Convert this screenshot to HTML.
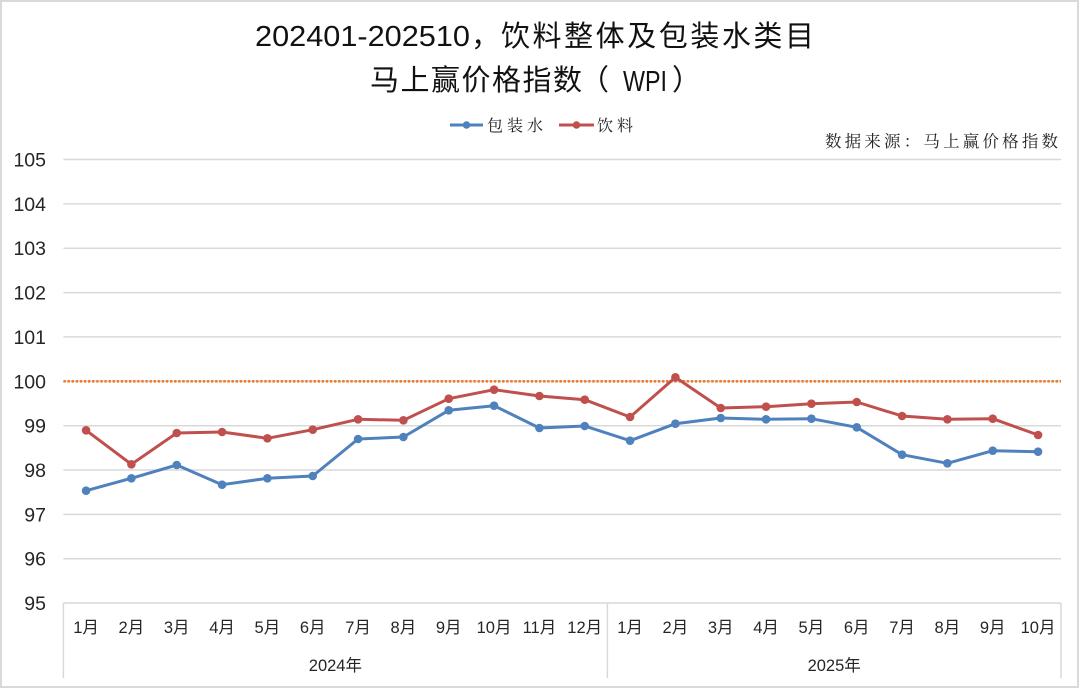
<!DOCTYPE html>
<html><head><meta charset="utf-8"><style>
html,body{margin:0;padding:0;background:#fff;}
svg{display:block;}
</style></head><body>
<svg width="1080" height="688" viewBox="0 0 1080 688" xmlns="http://www.w3.org/2000/svg">
<rect x="0" y="0" width="1080" height="688" fill="#fff"/>
<rect x="1" y="1" width="1077" height="686" fill="none" stroke="#d9d9d9" stroke-width="2"/>

<!-- Title -->
<g fill="#111" font-family="'Liberation Sans','Noto Sans CJK SC',sans-serif" font-size="29">
<text x="255" y="46" textLength="215" lengthAdjust="spacingAndGlyphs">202401-202510</text>
<text x="471" y="46" font-family="'Noto Sans CJK SC',sans-serif">，</text>
<text x="501" y="46" textLength="313" lengthAdjust="spacing" font-family="'Noto Sans CJK SC',sans-serif">饮料整体及包装水类目</text>
<text x="370" y="90" textLength="212" lengthAdjust="spacing" font-family="'Noto Sans CJK SC',sans-serif">马上赢价格指数</text>
<text x="580" y="90" font-family="'Noto Sans CJK SC',sans-serif">（</text>
<text x="623" y="91" textLength="44" lengthAdjust="spacingAndGlyphs">WPI</text>
<text x="672" y="90" font-family="'Noto Sans CJK SC',sans-serif">）</text>
</g>

<!-- Legend -->
<line x1="450" y1="125" x2="483" y2="125" stroke="#4F81BD" stroke-width="3"/>
<circle cx="466.5" cy="125" r="3.8" fill="#4F81BD"/>
<text x="487" y="131" font-family="'Noto Serif CJK SC',serif" font-size="16" fill="#222" textLength="56" lengthAdjust="spacing">包装水</text>
<line x1="559" y1="125" x2="594" y2="125" stroke="#C0504D" stroke-width="3"/>
<circle cx="576.5" cy="125" r="3.8" fill="#C0504D"/>
<text x="597" y="131" font-family="'Noto Serif CJK SC',serif" font-size="16" fill="#222" textLength="36" lengthAdjust="spacing">饮料</text>

<!-- Source -->
<text x="825" y="147" font-family="'Noto Serif CJK SC',serif" font-size="16.5" fill="#222" textLength="233" lengthAdjust="spacing">数据来源：马上赢价格指数</text>

<!-- Gridlines -->
<g stroke="#d9d9d9" stroke-width="1.5">
<line x1="63.4" y1="159.5" x2="1061" y2="159.5"/>
<line x1="63.4" y1="203.9" x2="1061" y2="203.9"/>
<line x1="63.4" y1="248.2" x2="1061" y2="248.2"/>
<line x1="63.4" y1="292.6" x2="1061" y2="292.6"/>
<line x1="63.4" y1="336.9" x2="1061" y2="336.9"/>
<line x1="63.4" y1="381.3" x2="1061" y2="381.3"/>
<line x1="63.4" y1="425.7" x2="1061" y2="425.7"/>
<line x1="63.4" y1="470" x2="1061" y2="470"/>
<line x1="63.4" y1="514.4" x2="1061" y2="514.4"/>
<line x1="63.4" y1="558.7" x2="1061" y2="558.7"/>
</g>
<!-- Category axis box -->
<g stroke="#d9d9d9" stroke-width="1.5" fill="none">
<line x1="63.4" y1="603" x2="1061" y2="603"/>
<line x1="63.4" y1="603" x2="63.4" y2="678"/>
<line x1="607.4" y1="603" x2="607.4" y2="678"/>
<line x1="1061" y1="603" x2="1061" y2="678"/>
</g>

<!-- Y labels -->
<g font-family="'Liberation Sans',sans-serif" font-size="19.5" fill="#262626" text-anchor="end">
<text x="46" y="166.5">105</text>
<text x="46" y="210.9">104</text>
<text x="46" y="255.2">103</text>
<text x="46" y="299.6">102</text>
<text x="46" y="343.9">101</text>
<text x="46" y="388.3">100</text>
<text x="46" y="432.7">99</text>
<text x="46" y="477">98</text>
<text x="46" y="521.4">97</text>
<text x="46" y="565.7">96</text>
<text x="46" y="610">95</text>
</g>

<!-- X labels -->
<g font-family="'Liberation Sans','Noto Sans CJK SC',sans-serif" font-size="16.5" fill="#262626" text-anchor="middle">
<text x="86.07" y="633">1月</text>
<text x="131.4" y="633">2月</text>
<text x="176.73" y="633">3月</text>
<text x="222.07" y="633">4月</text>
<text x="267.4" y="633">5月</text>
<text x="312.73" y="633">6月</text>
<text x="358.07" y="633">7月</text>
<text x="403.4" y="633">8月</text>
<text x="448.73" y="633">9月</text>
<text x="494.07" y="633">10月</text>
<text x="539.4" y="633">11月</text>
<text x="584.73" y="633">12月</text>
<text x="630.07" y="633">1月</text>
<text x="675.4" y="633">2月</text>
<text x="720.73" y="633">3月</text>
<text x="766.07" y="633">4月</text>
<text x="811.4" y="633">5月</text>
<text x="856.73" y="633">6月</text>
<text x="902.07" y="633">7月</text>
<text x="947.4" y="633">8月</text>
<text x="992.73" y="633">9月</text>
<text x="1038.07" y="633">10月</text>
<text x="335.4" y="671">2024年</text>
<text x="834.2" y="671">2025年</text>
</g>

<!-- Reference line 100 -->
<line x1="63.4" y1="381.3" x2="1061" y2="381.3" stroke="#ED7D31" stroke-width="2.6" stroke-dasharray="2.4 1.7"/>

<!-- Blue series -->
<polyline fill="none" stroke="#4F81BD" stroke-width="3" stroke-linejoin="round"
points="86.07,490.7 131.4,478.3 176.73,465 222.07,484.7 267.4,478.3 312.73,476 358.07,439 403.4,437 448.73,410.3 494.07,405.7 539.4,428 584.73,426 630.07,440.7 675.4,423.7 720.73,418 766.07,419.3 811.4,418.7 856.73,427.3 902.07,454.7 947.4,463.3 992.73,450.7 1038.07,451.7"/>
<g fill="#4F81BD">
<circle cx="86.07" cy="490.7" r="4.3"/><circle cx="131.4" cy="478.3" r="4.3"/><circle cx="176.73" cy="465" r="4.3"/><circle cx="222.07" cy="484.7" r="4.3"/><circle cx="267.4" cy="478.3" r="4.3"/><circle cx="312.73" cy="476" r="4.3"/><circle cx="358.07" cy="439" r="4.3"/><circle cx="403.4" cy="437" r="4.3"/><circle cx="448.73" cy="410.3" r="4.3"/><circle cx="494.07" cy="405.7" r="4.3"/><circle cx="539.4" cy="428" r="4.3"/><circle cx="584.73" cy="426" r="4.3"/><circle cx="630.07" cy="440.7" r="4.3"/><circle cx="675.4" cy="423.7" r="4.3"/><circle cx="720.73" cy="418" r="4.3"/><circle cx="766.07" cy="419.3" r="4.3"/><circle cx="811.4" cy="418.7" r="4.3"/><circle cx="856.73" cy="427.3" r="4.3"/><circle cx="902.07" cy="454.7" r="4.3"/><circle cx="947.4" cy="463.3" r="4.3"/><circle cx="992.73" cy="450.7" r="4.3"/><circle cx="1038.07" cy="451.7" r="4.3"/>
</g>

<!-- Red series -->
<polyline fill="none" stroke="#C0504D" stroke-width="3" stroke-linejoin="round"
points="86.07,430.3 131.4,464.3 176.73,433 222.07,432 267.4,438.3 312.73,429.7 358.07,419.3 403.4,420.3 448.73,398.7 494.07,389.7 539.4,396 584.73,399.7 630.07,417 675.4,377.3 720.73,408 766.07,406.7 811.4,403.7 856.73,402 902.07,416 947.4,419.3 992.73,418.7 1038.07,435"/>
<g fill="#C0504D">
<circle cx="86.07" cy="430.3" r="4.3"/><circle cx="131.4" cy="464.3" r="4.3"/><circle cx="176.73" cy="433" r="4.3"/><circle cx="222.07" cy="432" r="4.3"/><circle cx="267.4" cy="438.3" r="4.3"/><circle cx="312.73" cy="429.7" r="4.3"/><circle cx="358.07" cy="419.3" r="4.3"/><circle cx="403.4" cy="420.3" r="4.3"/><circle cx="448.73" cy="398.7" r="4.3"/><circle cx="494.07" cy="389.7" r="4.3"/><circle cx="539.4" cy="396" r="4.3"/><circle cx="584.73" cy="399.7" r="4.3"/><circle cx="630.07" cy="417" r="4.3"/><circle cx="675.4" cy="377.3" r="4.3"/><circle cx="720.73" cy="408" r="4.3"/><circle cx="766.07" cy="406.7" r="4.3"/><circle cx="811.4" cy="403.7" r="4.3"/><circle cx="856.73" cy="402" r="4.3"/><circle cx="902.07" cy="416" r="4.3"/><circle cx="947.4" cy="419.3" r="4.3"/><circle cx="992.73" cy="418.7" r="4.3"/><circle cx="1038.07" cy="435" r="4.3"/>
</g>
</svg>
</body></html>
